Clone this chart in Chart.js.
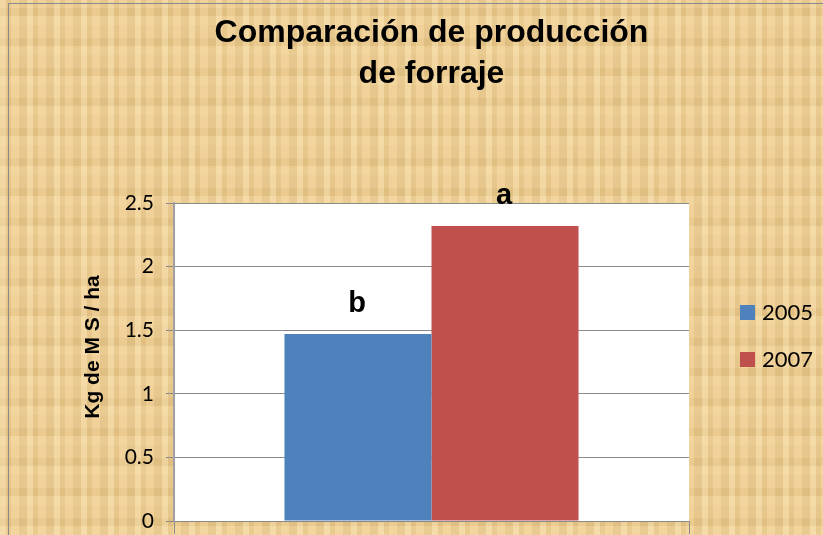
<!DOCTYPE html>
<html>
<head>
<meta charset="utf-8">
<script src="https://cdn.jsdelivr.net/npm/chart.js@4/dist/chart.umd.min.js"></script>
<style>
  html, body { margin: 0; padding: 0; }
  body {
    width: 823px; height: 535px; overflow: hidden;
    background-color: #e8c98f;
    background-image:
      repeating-linear-gradient(90deg, rgba(255,235,190,0.35) 0 6px, rgba(210,170,100,0.18) 6px 11px, rgba(255,225,170,0.25) 11px 19px, rgba(200,165,95,0.15) 19px 27px),
      repeating-linear-gradient(0deg, rgba(255,230,180,0.3) 0 9px, rgba(205,165,95,0.15) 9px 17px, rgba(250,220,170,0.2) 17px 30px);
  }
  #wrap { position: relative; width: 823px; height: 535px; }
  canvas { display: block; }
  #frame { position: absolute; left: 8px; top: 3px; right: -2px; bottom: -2px; border: 1px solid #8a8a8a; pointer-events: none; }
</style>
</head>
<body>
<div id="wrap">
  <canvas id="chart" width="823" height="535"></canvas>
  <div id="frame"></div>
</div>
<script>
// Forage production comparison
const titleLines = ['Comparación de producción', 'de forraje'];
const yTitle = 'Kg de M S / ha';
const categories = [''];
const seriesNames = ['2005', '2007'];
const values2005 = [1.47];
const values2007 = [2.32];
const significance = ['b', 'a']; // letters above the bars, per series
const colors = ['#4f81bd', '#c0504d'];

// white plot area
const plotBackground = {
    id: 'plotBackground',
    beforeDraw(chart) {
        const { ctx, chartArea: a } = chart;
        ctx.save();
        ctx.fillStyle = '#ffffff';
        ctx.fillRect(a.left, a.top, a.right - a.left, a.bottom - a.top);
        ctx.restore();
    }
};

// title, y title and legend drawn by hand so they sit where Excel put them
const decorations = {
    id: 'decorations',
    afterDraw(chart) {
        const { ctx, chartArea: a } = chart;
        ctx.save();
        ctx.fillStyle = '#000';

        // title, centred over the plot area
        ctx.font = 'bold 32px "Liberation Sans", Arial, sans-serif';
        ctx.textAlign = 'center';
        ctx.textBaseline = 'alphabetic';
        const cx = (a.left + a.right) / 2;
        titleLines.forEach((line, i) => ctx.fillText(line, cx, 42 + i * 41));

        // rotated y axis title
        ctx.font = 'bold 21px "Liberation Sans", Arial, sans-serif';
        ctx.textBaseline = 'middle';
        ctx.translate(93, (a.top + a.bottom) / 2 - 15);
        ctx.rotate(-Math.PI / 2);
        ctx.fillText(yTitle, 0, 0);
        ctx.restore();

        // legend on the right
        ctx.save();
        ctx.font = '22px Lato, "Open Sans", sans-serif';
        ctx.textAlign = 'left';
        ctx.textBaseline = 'middle';
        const lx = a.right + 51;
        chart.data.datasets.forEach((ds, i) => {
            const top = a.top + 102 + i * 47;
            ctx.fillStyle = ds.backgroundColor;
            ctx.fillRect(lx, top, 15, 15);
            ctx.fillStyle = '#000';
            ctx.fillText(ds.label, lx + 22, top + 8);
        });
        ctx.restore();
    }
};

// significance letters above each bar
const letterLabels = {
    id: 'letterLabels',
    afterDatasetsDraw(chart) {
        const ctx = chart.ctx;
        ctx.save();
        ctx.font = 'bold 29px "Liberation Sans", Arial, sans-serif';
        ctx.fillStyle = '#000';
        ctx.textAlign = 'center';
        ctx.textBaseline = 'alphabetic';
        chart.data.datasets.forEach((ds, i) => {
            const bar = chart.getDatasetMeta(i).data[0];
            ctx.fillText(significance[i], bar.x - 1, bar.y - 22);
        });
        ctx.restore();
    }
};

new Chart(document.getElementById('chart'), {
    type: 'bar',
    data: {
        labels: categories,
        datasets: [
            { label: seriesNames[0], data: values2005, backgroundColor: colors[0] },
            { label: seriesNames[1], data: values2007, backgroundColor: colors[1] }
        ]
    },
    options: {
        responsive: false,
        animation: false,
        layout: { padding: { left: 0, right: 134, top: 203, bottom: 0 } },
        datasets: { bar: { categoryPercentage: 0.571, barPercentage: 1 } },
        plugins: {
            title: { display: false },
            legend: { display: false },
            tooltip: { enabled: false }
        },
        scales: {
            x: {
                grid: { drawOnChartArea: false, drawTicks: true, tickLength: 13, color: '#8a8a8a', offset: true },
                border: { color: '#8a8a8a', width: 1 },
                ticks: { display: false },
                afterFit(scale) { scale.height = 14; }
            },
            y: {
                min: 0,
                max: 2.5,
                ticks: {
                    stepSize: 0.5,
                    color: '#000',
                    padding: 12,
                    font: { family: 'Lato, "Open Sans", sans-serif', size: 21, lineHeight: 0.1 },
                    callback: (v) => String(Number(v))
                },
                grid: { color: '#8a8a8a', tickLength: 8 },
                border: { color: '#a0a0a0', width: 2 },
                afterFit(scale) { scale.width = 174; }
            }
        }
    },
    plugins: [plotBackground, letterLabels, decorations]
});
</script>
</body>
</html>
